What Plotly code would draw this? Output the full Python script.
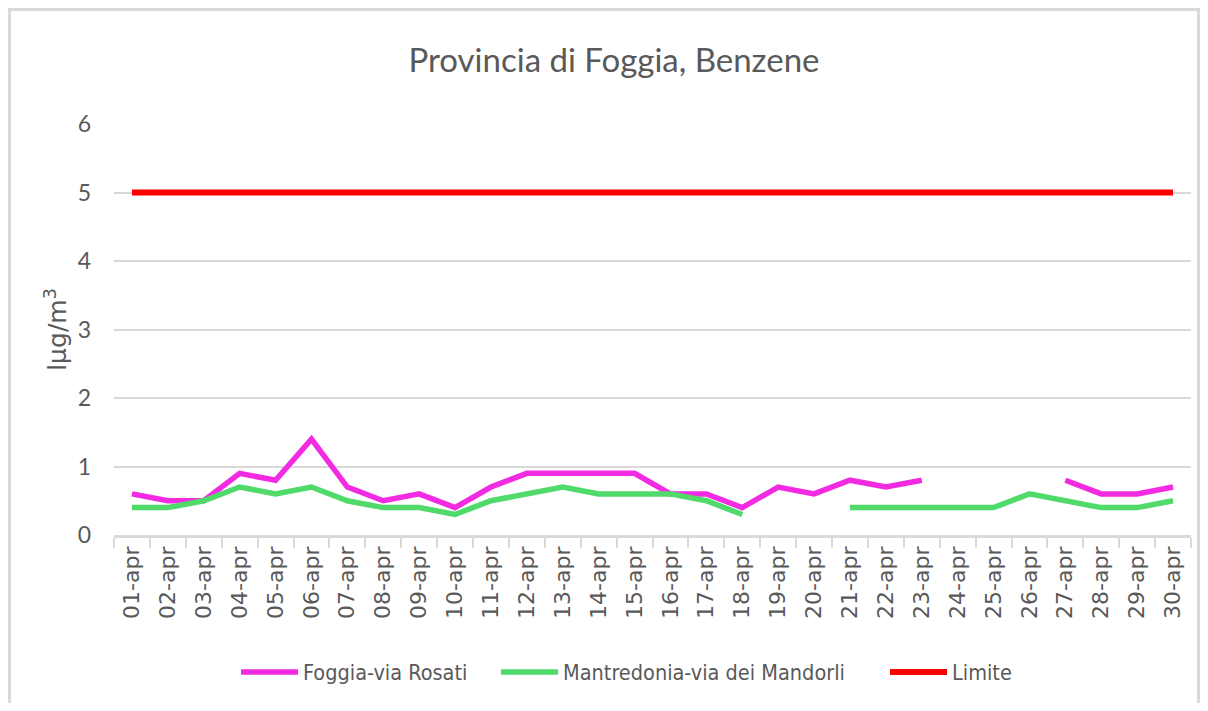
import plotly.graph_objects as go

days = [f"{d:02d}-apr" for d in range(1, 31)]
foggia = [0.6, 0.5, 0.5, 0.9, 0.8, 1.4, 0.7, 0.5, 0.6, 0.4,
          0.7, 0.9, 0.9, 0.9, 0.9, 0.6, 0.6, 0.4, 0.7, 0.6,
          0.8, 0.7, 0.8, None, None, None, 0.8, 0.6, 0.6, 0.7]
manfredonia = [0.4, 0.4, 0.5, 0.7, 0.6, 0.7, 0.5, 0.4, 0.4, 0.3,
               0.5, 0.6, 0.7, 0.6, 0.6, 0.6, 0.5, 0.3, None, None,
               0.4, 0.4, 0.4, 0.4, 0.4, 0.6, 0.5, 0.4, 0.4, 0.5]
limite = [5] * 30

GREY = "#595959"
NARROW = "Liberation Sans Narrow, DejaVu Sans Condensed, Lato"
W, H = 1192, 695
L, R, T, B = 106, 9, 116, 168
PW, PH = W - L - R, H - T - B

fig = go.Figure()
fig.add_trace(go.Scatter(x=days, y=foggia, name="Foggia-via Rosati", mode="lines",
                         line=dict(color="#F22AE2", width=5.5), connectgaps=False,
                         legend="legend"))
fig.add_trace(go.Scatter(x=days, y=manfredonia, name="Mantredonia-via dei Mandorli", mode="lines",
                         line=dict(color="#4FDA6A", width=5.5), connectgaps=False,
                         legend="legend2"))
fig.add_trace(go.Scatter(x=days, y=limite, name="Limite", mode="lines",
                         line=dict(color="#FF0000", width=6), legend="legend3"))

leg_common = dict(orientation="h", yanchor="middle", xanchor="left",
                  font=dict(family=NARROW, size=21.5, color=GREY), itemwidth=57,
                  bgcolor="rgba(0,0,0,0)")
ly = (PH - (664 - T)) / PH

def lx(screen_x):
    return (screen_x - 8 - L) / PW

fig.update_layout(
    width=W, height=H,
    margin=dict(l=L, r=R, t=T, b=B),
    paper_bgcolor="white", plot_bgcolor="white",
    title=dict(text="Provincia di Foggia, Benzene", xref="container", x=606 / W,
               xanchor="center", yref="container", y=1 - 52 / H, yanchor="middle",
               font=dict(family="Lato", size=33, color=GREY)),
    font=dict(family="Lato", color=GREY),
    legend=dict(**leg_common, x=lx(236), y=ly),
    legend2=dict(**leg_common, x=lx(496), y=ly),
    legend3=dict(**leg_common, x=lx(885), y=ly),
    showlegend=True,
)
fig.update_xaxes(type="category", tickangle=-90,
                 tickfont=dict(family="DejaVu Sans", size=22, color=GREY),
                 showgrid=False, showline=True, linecolor="#D9D9D9", linewidth=2.5,
                 ticks="outside", tickson="boundaries", ticklen=10, tickcolor="#D9D9D9",
                 tickwidth=1.5, range=[-0.5, 29.5])
fig.update_yaxes(range=[0, 6], dtick=1, showgrid=True, gridcolor="#D9D9D9", gridwidth=1.5,
                 tickfont=dict(family="Lato", size=23, color=GREY), zeroline=False, ticks="",
                 ticklabelstandoff=22,
                 title=dict(text="lµg/m<sup>3</sup>",
                            font=dict(family="DejaVu Sans", size=25, color=GREY), standoff=3))

fig.add_shape(type="rect", xref="paper", yref="paper",
              x0=(1.5 - L) / PW, x1=1 + (R - 1.5) / PW,
              y0=-(B + 30) / PH, y1=1 + (T - 1.5) / PH,
              line=dict(color="#D9D9D9", width=3), fillcolor="rgba(0,0,0,0)", layer="below")

fig.write_html("out.html")
